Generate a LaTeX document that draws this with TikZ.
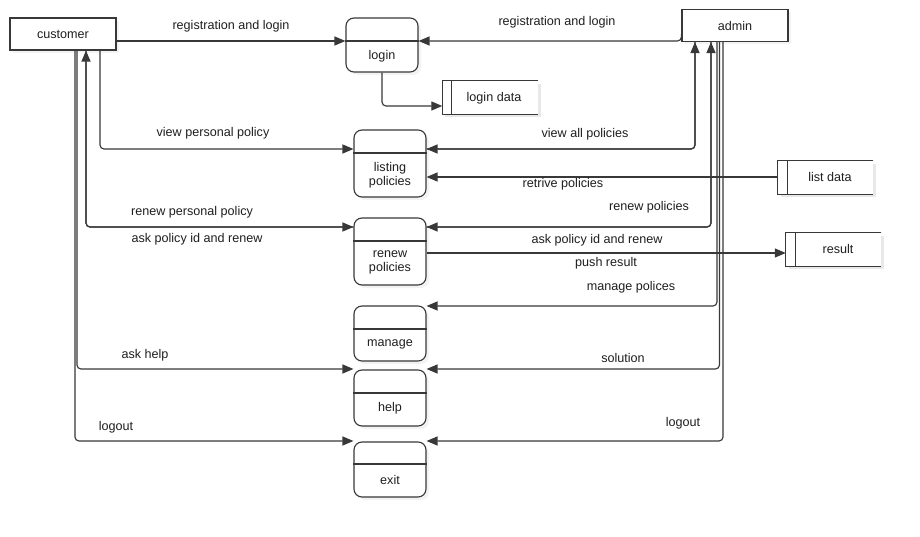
\documentclass[tikz,border=0pt]{standalone}
\usepackage{fontspec}
\setmainfont{Liberation Sans}
\usetikzlibrary{arrows.meta,shadows}
\begin{document}
\begin{tikzpicture}[x=1pt,y=-1pt,
  font=\fontsize{12.6}{14}\selectfont,
  ln/.style={draw=black!78, line width=1.15pt, rounded corners=4pt},
  arr/.style={ln, -{Triangle[length=11pt,width=9pt]}},
  ent/.style={draw=black!78, line width=1.1pt, fill=white, minimum width=106pt, minimum height=32pt, inner sep=0pt,
    drop shadow={shadow xshift=3pt, shadow yshift=-3pt, fill=black!9}},
  proc/.style={draw=black!78, line width=1.1pt, fill=white, rounded corners=8pt, minimum width=72pt, inner sep=0pt,
    drop shadow={shadow xshift=3pt, shadow yshift=-3pt, fill=black!9}},
  store/.style={minimum width=95pt, minimum height=33pt, inner sep=0pt},
  txt/.style={inner sep=0pt, align=center, text=black!88},
  lbl/.style={inner sep=0pt, text=black!88},
]
\useasboundingbox (0,0) rectangle (920,537);
\fill[white] (0,0) rectangle (920,537);

% entities
\node[ent] (customer) at (63,34) {};
\node[txt] (customertext) at (63,34) {customer};
\node[ent] (admin) at (735,25.5) {};
\node[txt] (admintext) at (735,26) {admin};

% processes
\node[proc, minimum height=54pt] (login) at (382,45) {};
\draw[ln, rounded corners=0pt] (login.west |- 0,41) -- (login.east |- 0,41);
\node[txt] (logintext) at (382,56) {login};

\node[proc, minimum height=67pt] (listing) at (390,163.5) {};
\draw[ln, rounded corners=0pt] (listing.west |- 0,153) -- (listing.east |- 0,153);
\node[txt] (listingtext) at (390,175) {listing\\policies};

\node[proc, minimum height=67pt] (renew) at (390,251.5) {};
\draw[ln, rounded corners=0pt] (renew.west |- 0,241) -- (renew.east |- 0,241);
\node[txt] (renewtext) at (390,262) {renew\\policies};

\node[proc, minimum height=55pt] (manage) at (390,333.5) {};
\draw[ln, rounded corners=0pt] (manage.west |- 0,329) -- (manage.east |- 0,329);
\node[txt] (managetext) at (390,344) {manage};

\node[proc, minimum height=56pt] (help) at (390,398) {};
\draw[ln, rounded corners=0pt] (help.west |- 0,393) -- (help.east |- 0,393);
\node[txt] (helptext) at (390,408) {help};

\node[proc, minimum height=55pt] (exit) at (390,469.5) {};
\draw[ln, rounded corners=0pt] (exit.west |- 0,464) -- (exit.east |- 0,464);
\node[txt] (exittext) at (390,480) {exit};

% data stores
\foreach \s/\cx/\cy in {logindata/490/97.5, listdata/825.5/177.5, result/833.5/249.5}{
  \node[store] (\s) at (\cx,\cy) {};
  \fill[black!9] ([xshift=3pt,yshift=-3pt]\s.north west) rectangle ([xshift=3pt,yshift=-3pt]\s.south east);
  \fill[white] (\s.north west) rectangle (\s.south east);
  \draw[ln, rounded corners=0pt] (\s.north east) -- (\s.north west) -- (\s.south west) -- (\s.south east);
  \draw[ln, rounded corners=0pt] ([xshift=9.5pt]\s.north west) -- ([xshift=9.5pt]\s.south west);
}
\node[txt] (logindatatext) at (494,98) {login data};
\node[txt] (listdatatext) at (830,177) {list data};
\node[txt] (resulttext) at (838,249) {result};

% connectors: customer side
\draw[arr] (customer.east |- 0,41) -- (login.west |- 0,41);
\draw[arr] (100,0 |- customer.south) |- (listing.west |- 0,149);
\draw[arr] (86,0 |- customer.south) |- (renew.west |- 0,227);
\draw[arr] (renew.west |- 0,227) -| (86,0 |- customer.south);
\draw[arr] (77,0 |- customer.south) |- (help.west |- 0,369);
\draw[arr] (75,0 |- customer.south) |- (exit.west |- 0,441);

% connectors: admin side
\draw[arr] (admin.west |- 0,34) |- (login.east |- 0,41);
\draw[arr] (login.south) |- (logindata.west |- 0,106);
\draw[arr] (695,0 |- admin.south) |- (listing.east |- 0,149);
\draw[arr] (listing.east |- 0,149) -| (695,0 |- admin.south);
\draw[arr] (listdata.west |- 0,177) -- (listing.east |- 0,177);
\draw[arr] (711,0 |- admin.south) |- (renew.east |- 0,227);
\draw[arr] (renew.east |- 0,227) -| (711,0 |- admin.south);
\draw[arr] (renew.east |- 0,253) -- (result.west |- 0,253);
\draw[arr] (717,0 |- admin.south) |- (manage.east |- 0,306);
\draw[arr] (719.5,0 |- admin.south) |- (help.east |- 0,369);
\draw[arr] (723,0 |- admin.south) |- (exit.east |- 0,441);

% labels
\node[lbl] (l1) at (231,26) {registration and login};
\node[lbl] (l2) at (557,22) {registration and login};
\node[lbl] (l3) at (213,133) {view personal policy};
\node[lbl] (l4) at (192,212) {renew personal policy};
\node[lbl] (l5) at (197,239) {ask policy id and renew};
\node[lbl] (l6) at (145,355) {ask help};
\node[lbl] (l7) at (116,427) {logout};
\node[lbl] (l8) at (585,134) {view all policies};
\node[lbl] (l9) at (563,184) {retrive policies};
\node[lbl] (l10) at (649,207) {renew policies};
\node[lbl] (l11) at (597,240) {ask policy id and renew};
\node[lbl] (l12) at (606,263) {push result};
\node[lbl] (l13) at (631,287) {manage polices};
\node[lbl] (l14) at (623,358) {solution};
\node[lbl] (l15) at (683,423) {logout};
\end{tikzpicture}
\end{document}
